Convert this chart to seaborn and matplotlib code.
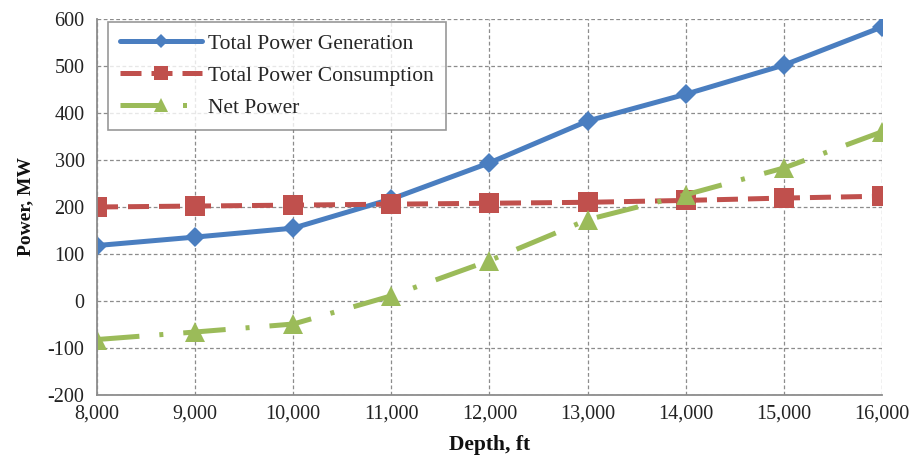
import matplotlib
matplotlib.use("Agg")
import matplotlib.pyplot as plt
import seaborn as sns
from matplotlib.ticker import FuncFormatter, MultipleLocator

depth = [8000, 9000, 10000, 11000, 12000, 13000, 14000, 15000, 16000]
generation = [118, 136, 155, 217, 294, 383, 440, 502, 583]
consumption = [200, 202, 204, 206, 208, 210, 214, 219, 223]
net_power = [-82, -66, -49, 11, 86, 173, 226, 283, 360]

series_names = ["Total Power Generation", "Total Power Consumption", "Net Power"]
y_ticks = list(range(-200, 601, 100))

sns.set_theme(style="white")
plt.rcParams["font.family"] = ["Liberation Serif", "DejaVu Serif"]

fig = plt.figure(figsize=(9.17, 4.66), dpi=100)
ax = fig.add_axes([0.1058, 0.1524, 0.856, 0.8068])

styles = [
    dict(color="#4A7EC0", marker="D", markersize=10.5, linestyle="-"),
    dict(color="#C0504D", marker="s", markersize=14, linestyle=(0, (4.2, 2.0))),
    dict(color="#9BBB59", marker="^", markersize=14, linestyle=(0, (8.5, 4.0, 0.8, 4.0))),
]
for name, values, st in zip(series_names, [generation, consumption, net_power], styles):
    sns.lineplot(x=depth, y=values, ax=ax, label=name, linewidth=3.6,
                 color=st["color"], marker=st["marker"], markersize=st["markersize"],
                 markeredgewidth=0, linestyle=st["linestyle"])

ax.set_xlim(8000, 16000)
ax.set_ylim(-200, 600)
ax.xaxis.set_major_locator(MultipleLocator(1000))
ax.set_yticks(y_ticks)
ax.xaxis.set_major_formatter(FuncFormatter(lambda v, p: f"{int(v):,}"))
ax.yaxis.set_major_formatter(FuncFormatter(lambda v, p: f"{int(v)}"))
ax.grid(True, linestyle=(0, (3, 2)), color="#8C8C8C", linewidth=0.9)
ax.set_axisbelow(True)

for side in ["top", "right"]:
    ax.spines[side].set_visible(False)
for side in ["left", "bottom"]:
    ax.spines[side].set_color("#8C8C8C")
    ax.spines[side].set_linewidth(1.3)
ax.tick_params(axis="both", which="major", direction="inout", length=8, width=1,
               color="#8C8C8C", labelsize=14.5, labelcolor="#222222")
ax.tick_params(axis="y", pad=5)
ax.tick_params(axis="x", pad=3)

ax.set_xlabel("Depth, ft", fontsize=15.5, fontweight="bold", color="#111111", labelpad=8)
ax.set_ylabel("Power, MW", fontsize=14, fontweight="bold", color="#111111", labelpad=10)

leg = ax.legend(loc="upper left", bbox_to_anchor=(0.014, 0.992), fontsize=15.5,
                frameon=True, fancybox=False, edgecolor="#7F7F7F", handlelength=3.8,
                markerscale=0.7, borderpad=0.55, labelspacing=0.55, handletextpad=0.3,
                borderaxespad=0.0)
leg.get_frame().set_linewidth(1.2)

fig.savefig("out.png", dpi=100)
